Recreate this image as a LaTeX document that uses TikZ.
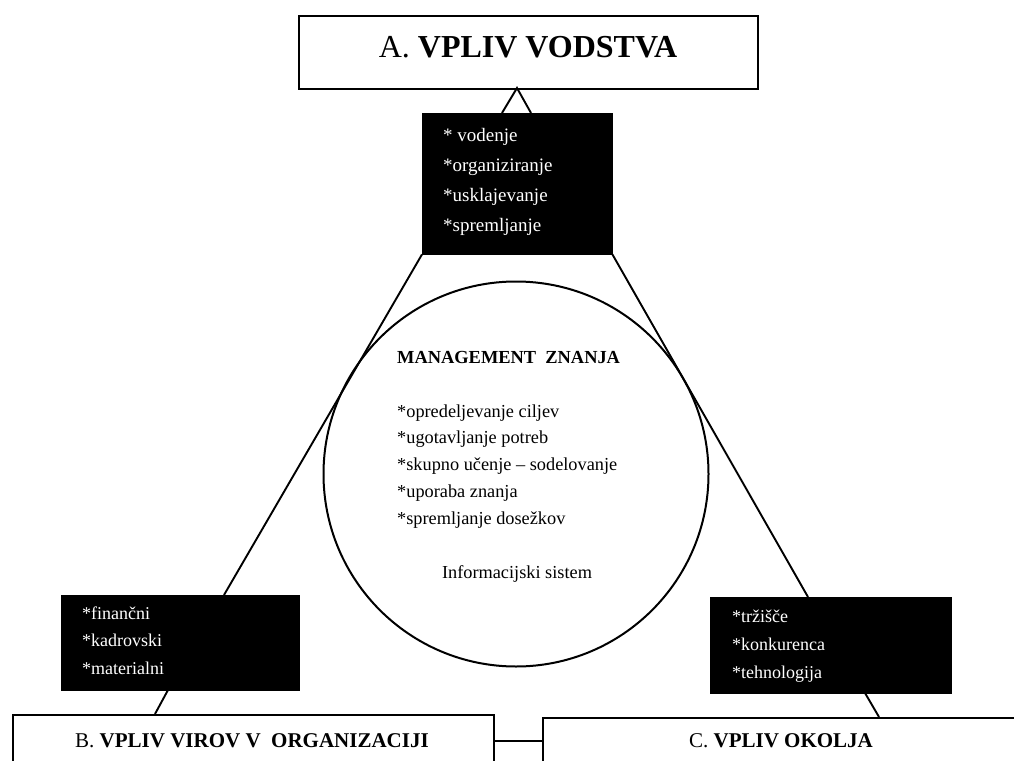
\documentclass[tikz,border=0pt]{standalone}
\usepackage{fontspec}
\setmainfont{Liberation Serif}
\begin{document}
\begin{tikzpicture}[x=1pt,y=-1pt,
  frame/.style={draw,line width=2pt,inner sep=0pt,anchor=north west},
  darkbox/.style={fill=black,draw=black,inner sep=0pt,anchor=north west},
  link/.style={line width=1.9pt},
  lbl/.style={inner sep=0pt,anchor=base west},
  wlbl/.style={lbl,text=white},
  title/.style={inner sep=0pt,anchor=base},
]
\useasboundingbox (0,0) rectangle (1014,760);
\clip (0,0) rectangle (1014,760);

% the three spheres of influence
\node[frame,minimum width=459pt,minimum height=73pt] (A) at (298,15) {};
\node[frame,minimum width=481pt,minimum height=70pt] (B) at (12,714) {};
\node[frame,minimum width=480pt,minimum height=70pt] (C) at (542,717) {};

\node[title,font=\fontsize{32}{38}\selectfont] (Atitle) at (528,57) {A.~\textbf{VPLIV VODSTVA}};
\node[title,font=\fontsize{21}{25}\selectfont] (Btitle) at (252,747) {B.~\textbf{VPLIV VIROV V~~ORGANIZACIJI}};
\node[title,font=\fontsize{21}{25}\selectfont] (Ctitle) at (781,747) {C.~\textbf{VPLIV OKOLJA}};

% dark factor boxes
\node[darkbox,minimum width=190pt,minimum height=141pt] (lead) at (422,113) {};
\node[darkbox,minimum width=238pt,minimum height=95pt] (res) at (61,595) {};
\node[darkbox,minimum width=241pt,minimum height=96pt] (env) at (710,597) {};

% knowledge management core
\node[draw,circle,line width=2pt,minimum size=385pt,inner sep=0pt] (km) at (516,474) {};

% connection points
\coordinate (apex) at (517,88);
\coordinate (capL) at (502,113);
\coordinate (capR) at (531,113);
\coordinate (resTop) at (224,595);
\coordinate (resFoot) at (168,690);
\coordinate (Btop) at (155,714);
\coordinate (envTop) at (808,597);
\coordinate (envFoot) at (865,693);
\coordinate (Ctop) at (879,717);
\coordinate (bc) at (0,741);

% connectors
\draw[link] (capL) -- (apex) -- (capR);
\draw[link] (lead.south west) -- (resTop);
\draw[link] (lead.south east) -- (envTop);
\draw[link] (resFoot) -- (Btop);
\draw[link] (envFoot) -- (Ctop);
\draw[link] (B.east |- bc) -- (C.west |- bc);

% factor lists
\foreach \t [count=\i] in {{* vodenje},{*organiziranje},{*usklajevanje},{*spremljanje}}
  \node[wlbl,font=\fontsize{19}{22}\selectfont] (lead\i) at (443,{141+30.3*(\i-1)}) {\t};
\foreach \t [count=\i] in {{*finančni},{*kadrovski},{*materialni}}
  \node[wlbl,font=\fontsize{18}{21}\selectfont] (res\i) at (82,{619+27.5*(\i-1)}) {\t};
\foreach \t [count=\i] in {{*tržišče},{*konkurenca},{*tehnologija}}
  \node[wlbl,font=\fontsize{18}{21}\selectfont] (env\i) at (732,{622+28*(\i-1)}) {\t};

% contents of the core
\node[lbl,font=\fontsize{18.4}{21}\selectfont\bfseries] (kmtitle) at (397,363) {MANAGEMENT~~ZNANJA};
\foreach \t [count=\i] in {{*opredeljevanje ciljev},{*ugotavljanje potreb},{*skupno učenje – sodelovanje},{*uporaba znanja},{*spremljanje dosežkov}}
  \node[lbl,font=\fontsize{18.3}{21}\selectfont] (km\i) at (397,{417+26.8*(\i-1)}) {\t};
\node[title,font=\fontsize{18.3}{21}\selectfont] (info) at (517,578) {Informacijski sistem};
\end{tikzpicture}
\end{document}
